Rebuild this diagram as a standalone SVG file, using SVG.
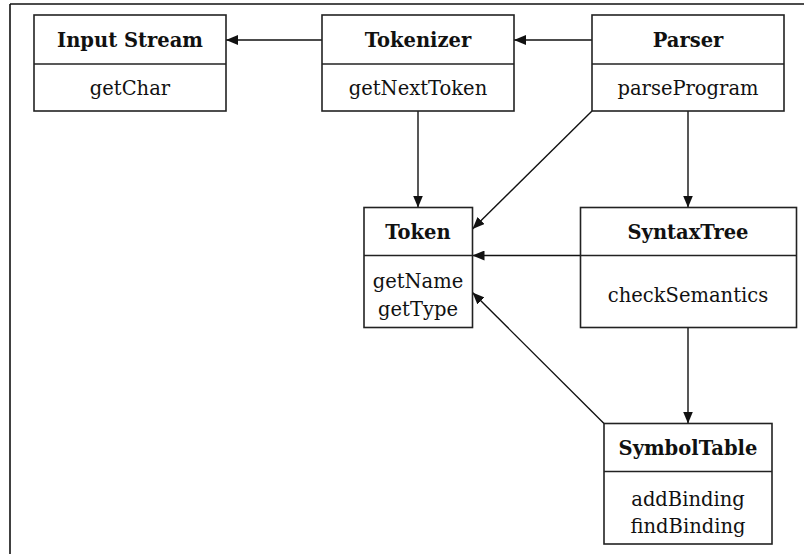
<svg xmlns="http://www.w3.org/2000/svg" width="804" height="554" viewBox="0 0 804 554">
<style>
.box{fill:#fff;stroke:#222;stroke-width:1.6}
.div{stroke:#222;stroke-width:1.6}
.t{font-family:"DejaVu Serif","Liberation Serif",serif;font-size:19.5px;fill:#111;text-anchor:middle}
.b{font-weight:bold}
.c{stroke:#111;stroke-width:1.4;fill:none;marker-end:url(#ah)}
</style>
<defs>
<marker id="ah" markerWidth="12" markerHeight="10" refX="12" refY="5" orient="auto" markerUnits="userSpaceOnUse">
<path d="M0,0 L12,5 L0,10 Z" fill="#111"/>
</marker>
</defs>
<rect width="804" height="554" fill="#fff"/>
<g id="frame" stroke="#111" stroke-width="1.6">
<line x1="10" y1="4" x2="804" y2="4"/>
<line x1="10" y1="4" x2="10" y2="554"/>
</g>
<g id="connectors">
<line class="c" x1="322" y1="40" x2="226" y2="40"/>
<line class="c" x1="592" y1="40" x2="514" y2="40"/>
<line class="c" x1="418" y1="111" x2="418" y2="207.5"/>
<line class="c" x1="592" y1="111" x2="472.5" y2="229"/>
<line class="c" x1="688" y1="111" x2="688" y2="207.5"/>
<line class="c" x1="580.5" y1="255.5" x2="472.5" y2="255.5"/>
<line class="c" x1="604" y1="423.5" x2="472.5" y2="292.5"/>
<line class="c" x1="688" y1="327.5" x2="688" y2="423.5"/>
</g>
<g id="input-stream">
<rect class="box" x="34" y="15" width="192" height="96"/>
<line class="div" x1="34" y1="64" x2="226" y2="64"/>
<text class="t b" x="130" y="46.5">Input Stream</text>
<text class="t" x="130" y="94.5">getChar</text>
</g>
<g id="tokenizer">
<rect class="box" x="322" y="15" width="192" height="96"/>
<line class="div" x1="322" y1="64" x2="514" y2="64"/>
<text class="t b" x="418" y="46.5">Tokenizer</text>
<text class="t" x="418" y="94.5">getNextToken</text>
</g>
<g id="parser">
<rect class="box" x="592" y="15" width="192" height="96"/>
<line class="div" x1="592" y1="64" x2="784" y2="64"/>
<text class="t b" x="688" y="46.5">Parser</text>
<text class="t" x="688" y="94.5">parseProgram</text>
</g>
<g id="token">
<rect class="box" x="364" y="207.5" width="108.5" height="120"/>
<line class="div" x1="364" y1="255.5" x2="472.5" y2="255.5"/>
<text class="t b" x="418" y="239">Token</text>
<text class="t" x="418" y="288">getName</text>
<text class="t" x="418" y="316">getType</text>
</g>
<g id="syntax-tree">
<rect class="box" x="580.5" y="207.5" width="216" height="120"/>
<line class="div" x1="580.5" y1="255.5" x2="796.5" y2="255.5"/>
<text class="t b" x="688" y="239">SyntaxTree</text>
<text class="t" x="688" y="301.5">checkSemantics</text>
</g>
<g id="symbol-table">
<rect class="box" x="604" y="423.5" width="168" height="120.5"/>
<line class="div" x1="604" y1="471.5" x2="772" y2="471.5"/>
<text class="t b" x="688" y="455">SymbolTable</text>
<text class="t" x="688" y="506">addBinding</text>
<text class="t" x="688" y="533">findBinding</text>
</g>
</svg>
